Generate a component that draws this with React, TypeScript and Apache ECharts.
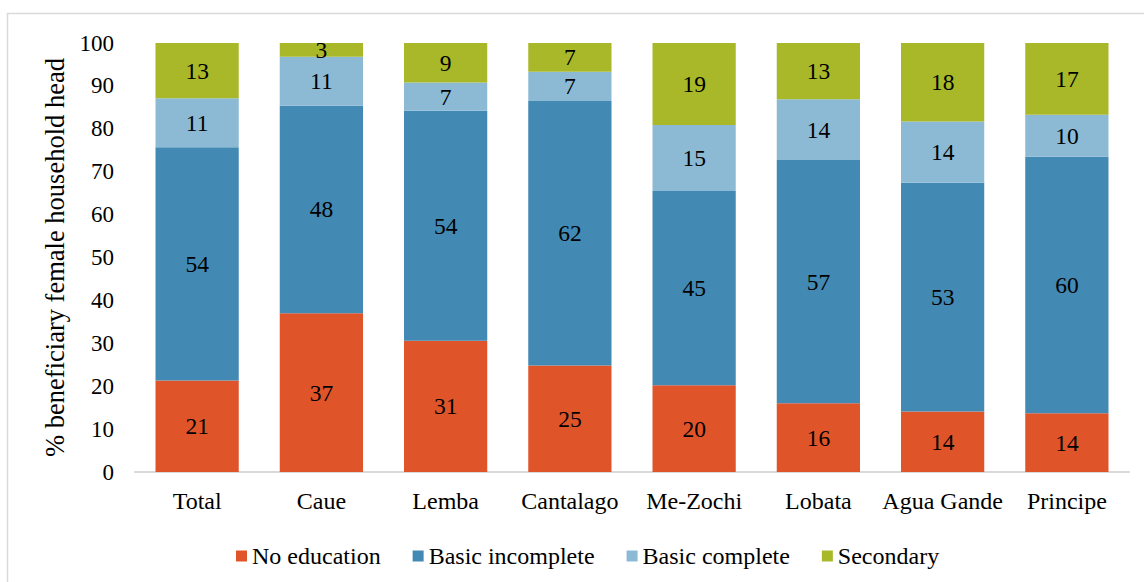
import React, { useEffect, useRef } from "react";
import * as echarts from "echarts";

// Districts and education levels of beneficiary female household heads (%)
const categories = ["Total", "Caue", "Lemba", "Cantalago", "Me-Zochi", "Lobata", "Agua Gande", "Principe"];
const seriesNames = ["No education", "Basic incomplete", "Basic complete", "Secondary"];

const noEducation = [21.3, 37.0, 30.6, 24.8, 20.2, 16.0, 14.1, 13.7];
const basicIncomplete = [54.4, 48.4, 53.6, 61.7, 45.3, 56.7, 53.3, 59.8];
const basicComplete = [11.4, 11.4, 6.6, 6.8, 15.4, 14.2, 14.3, 9.8];
const secondary = [12.9, 3.2, 9.2, 6.7, 19.1, 13.1, 18.3, 16.7];

const colors = ["#E0542A", "#4289B4", "#8CBAD4", "#A8B828"];
const FONT = "Liberation Serif";

export default function App() {
  const ref = useRef<HTMLDivElement>(null);

  useEffect(() => {
    if (!ref.current) return;
    const chart = echarts.init(ref.current, null, { renderer: "svg" });
    const values = [noEducation, basicIncomplete, basicComplete, secondary];

    chart.setOption({
      animation: false,
      textStyle: { fontFamily: FONT, color: "#000" },
      graphic: [
        {
          type: "rect",
          shape: { x: 7.5, y: 13.5, width: 1200, height: 600 },
          style: { fill: "none", stroke: "#D9D9D9", lineWidth: 1.5 },
          silent: true,
        },
      ],
      grid: { left: 135, right: 15, top: 43, bottom: 110, containLabel: false },
      legend: {
        left: 231,
        top: 539,
        icon: "rect",
        itemWidth: 11,
        itemHeight: 11,
        itemGap: 32,
        textStyle: { fontFamily: FONT, fontSize: 24, color: "#000" },
        data: seriesNames,
      },
      xAxis: {
        type: "category",
        data: categories,
        axisLine: { lineStyle: { color: "#D9D9D9", width: 2 } },
        axisTick: { show: false },
        axisLabel: { interval: 0, fontFamily: FONT, fontSize: 24, color: "#000", margin: 17 },
      },
      yAxis: {
        type: "value",
        min: 0,
        max: 100,
        interval: 10,
        name: "% beneficiary female household head",
        nameLocation: "middle",
        nameRotate: 90,
        nameGap: 64,
        nameTextStyle: { fontFamily: FONT, fontSize: 26.5, color: "#000" },
        splitLine: { show: false },
        axisLine: { show: false },
        axisTick: { show: false },
        axisLabel: { fontFamily: FONT, fontSize: 23, color: "#000", margin: 21 },
      },
      series: seriesNames.map((name, i) => ({
        name,
        type: "bar",
        stack: "edu",
        barWidth: "67%",
        data: values[i],
        itemStyle: { color: colors[i] },
        label: {
          show: true,
          position: "inside",
          fontFamily: FONT,
          fontSize: 23.5,
          color: "#000",
          formatter: (p: any) => String(Math.round(p.value)),
        },
      })),
    });

    return () => chart.dispose();
  }, []);

  return (
    <div
      ref={ref}
      style={{ position: "fixed", left: 0, top: 0, width: 1144, height: 582, background: "#fff" }}
    />
  );
}
